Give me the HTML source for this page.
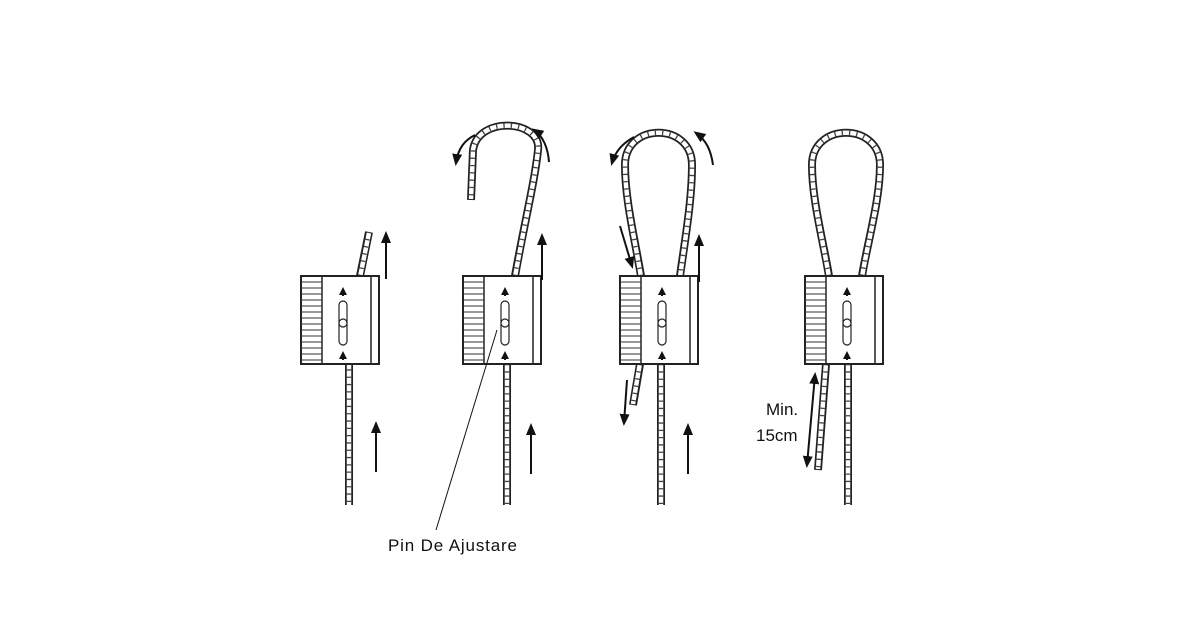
<!DOCTYPE html>
<html><head><style>body{margin:0;background:#fff}svg{display:block}</style></head><body>
<svg width="1200" height="630" viewBox="0 0 1200 630" xmlns="http://www.w3.org/2000/svg">
<defs>
<marker id="ah" markerWidth="8" markerHeight="8" refX="6" refY="4" orient="auto" markerUnits="userSpaceOnUse"><path d="M0,0 L8,4 L0,8 z" fill="#111"/></marker>
<marker id="ah2" markerWidth="12" markerHeight="10" refX="9" refY="5" orient="auto" markerUnits="userSpaceOnUse"><path d="M0,0 L12,5 L0,10 z" fill="#111"/></marker>
<marker id="ahs" markerWidth="12" markerHeight="10" refX="3" refY="5" orient="auto" markerUnits="userSpaceOnUse"><path d="M12,0 L0,5 L12,10 z" fill="#111"/></marker>
<g id="blk">
<rect x="0" y="0" width="78" height="88" fill="#fff" stroke="#222" stroke-width="2"/>
<line x1="21" y1="0" x2="21" y2="88" stroke="#222" stroke-width="1.5"/>
<line x1="70" y1="0" x2="70" y2="88" stroke="#222" stroke-width="1.5"/>
<path d="M0,6h21M0,12h21M0,18h21M0,24h21M0,30h21M0,36h21M0,42h21M0,48h21M0,54h21M0,60h21M0,66h21M0,72h21M0,78h21M0,84h21" stroke="#333" stroke-width="1"/>
<rect x="38" y="25" width="8" height="44" rx="4" fill="#fff" stroke="#222" stroke-width="1.2"/>
<circle cx="42" cy="47" r="4" fill="#fff" stroke="#222" stroke-width="1.2"/>
<line x1="42" y1="20" x2="42" y2="13" stroke="#111" stroke-width="2" marker-end="url(#ah)"/>
<line x1="42" y1="84" x2="42" y2="77" stroke="#111" stroke-width="2" marker-end="url(#ah)"/>
</g>
</defs>
<g fill="none" stroke-linecap="butt">
<g stroke="#222" stroke-width="8">
<path d="M349,362 V505 M360,276 L369,232"/>
<path d="M507,364 V505 M515,276 C525,220 535,180 538,150 C542,120 478,115 473,150 L471,200"/>
<path d="M661,364 V505 M641,276 C635,240 625,200 625,165 C625,122 692,122 692,165 C692,200 685,240 680,276 M640,364 L633,405"/>
<path d="M848,364 V505 M829,276 C823,240 812,200 812,165 C812,122 880,122 880,165 C880,200 868,240 862,276 M826,364 L818,470"/>
</g>
<g stroke="#fff" stroke-width="4.5">
<path d="M349,361 V505 M360,277 L369,233"/>
<path d="M507,363 V505 M515,277 C525,220 535,180 538,150 C542,120 478,115 473,150 L471,199"/>
<path d="M661,363 V505 M641,277 C635,240 625,200 625,165 C625,122 692,122 692,165 C692,200 685,240 680,277 M640,363 L633,404"/>
<path d="M848,363 V505 M829,277 C823,240 812,200 812,165 C812,122 880,122 880,165 C880,200 868,240 862,277 M826,363 L818,469"/>
</g>
<g stroke="#444" stroke-width="4.5" stroke-dasharray="1.3 6">
<path d="M349,362 V505 M360,276 L369,232"/>
<path d="M507,364 V505 M515,276 C525,220 535,180 538,150 C542,120 478,115 473,150 L471,200"/>
<path d="M661,364 V505 M641,276 C635,240 625,200 625,165 C625,122 692,122 692,165 C692,200 685,240 680,276 M640,364 L633,405"/>
<path d="M848,364 V505 M829,276 C823,240 812,200 812,165 C812,122 880,122 880,165 C880,200 868,240 862,276 M826,364 L818,470"/>
</g>
</g>
<use href="#blk" x="301" y="276"/>
<use href="#blk" x="463" y="276"/>
<use href="#blk" x="620" y="276"/>
<use href="#blk" x="805" y="276"/>
<g stroke="#111" stroke-width="2" fill="none">
<line x1="386" y1="279" x2="386" y2="234" marker-end="url(#ah2)"/>
<line x1="376" y1="472" x2="376" y2="424" marker-end="url(#ah2)"/>
<line x1="542" y1="280" x2="542" y2="236" marker-end="url(#ah2)"/>
<line x1="531" y1="474" x2="531" y2="426" marker-end="url(#ah2)"/>
<path d="M475,135 C465,140 458,148 456,163" marker-end="url(#ah2)"/>
<path d="M549,162 C548,148 543,136 534,130" marker-end="url(#ah2)"/>
<line x1="620" y1="226" x2="632" y2="266" marker-end="url(#ah2)"/>
<line x1="699" y1="282" x2="699" y2="237" marker-end="url(#ah2)"/>
<line x1="627" y1="380" x2="624" y2="423" marker-end="url(#ah2)"/>
<line x1="688" y1="474" x2="688" y2="426" marker-end="url(#ah2)"/>
<path d="M634,137 C623,143 615,152 612,163" marker-end="url(#ah2)"/>
<path d="M713,165 C711,150 706,140 696,133" marker-end="url(#ah2)"/>
<line x1="815" y1="375" x2="807" y2="465" marker-start="url(#ahs)" marker-end="url(#ah2)"/>
<line x1="497" y1="330" x2="436" y2="530" stroke-width="1"/>
</g>
<g font-family="Liberation Sans, sans-serif" fill="#111">
<text x="388" y="551" font-size="17" textLength="129">Pin De Ajustare</text>
<text x="766" y="415" font-size="17">Min.</text>
<text x="756" y="441" font-size="17">15cm</text>
</g>
</svg>
</body></html>
